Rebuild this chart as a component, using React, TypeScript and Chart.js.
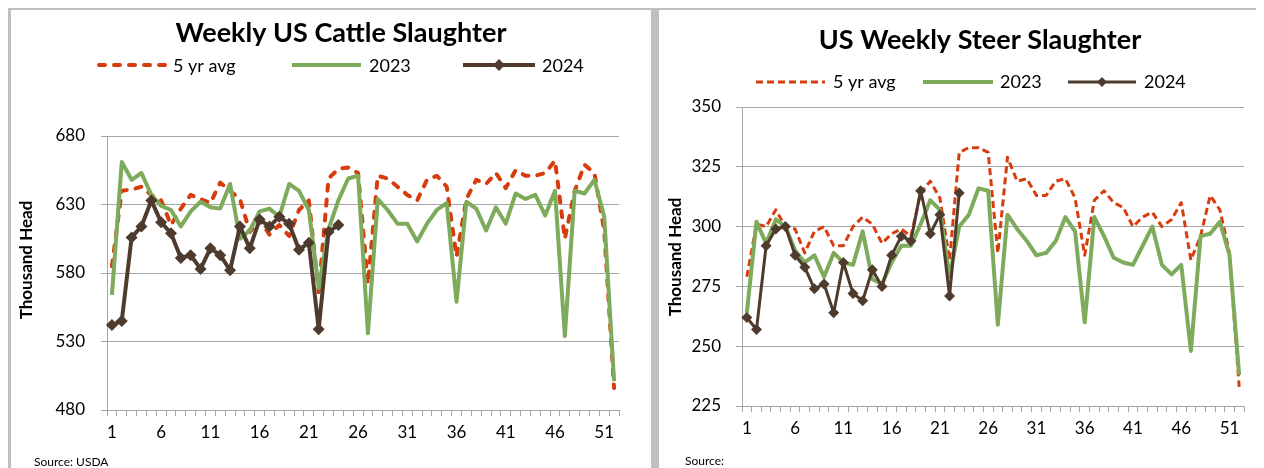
import React, { useEffect, useRef } from 'react';
import { Chart, registerables } from 'chart.js';

Chart.register(...registerables);

// ---------- data ----------
const weeks = [
  '1', '2', '3', '4', '5', '6', '7', '8', '9', '10', '11', '12', '13',
  '14', '15', '16', '17', '18', '19', '20', '21', '22', '23', '24', '25', '26',
  '27', '28', '29', '30', '31', '32', '33', '34', '35', '36', '37', '38', '39',
  '40', '41', '42', '43', '44', '45', '46', '47', '48', '49', '50', '51', '52',
];

const seriesNames = ['5 yr avg', '2023', '2024'];

const cattleAvg = [
  585, 640, 641, 643, 637, 633, 615, 627, 637, 634, 631, 646, 640,
  634, 610, 619, 608, 615, 607, 626, 633, 566, 649, 656, 657, 653,
  572, 651, 649, 643, 637, 633, 648, 651, 643, 592, 634, 648, 645,
  653, 642, 655, 651, 651, 653, 662, 605, 640, 659, 653, 611, 496,
];
const cattle2023 = [
  564, 661, 648, 653, 637, 629, 626, 614, 625, 632, 628, 627, 645,
  605, 611, 625, 627, 621, 645, 640, 626, 569, 612, 633, 649, 651,
  536, 634, 626, 616, 616, 603, 616, 626, 631, 559, 632, 627, 611,
  628, 616, 638, 634, 637, 622, 640, 534, 640, 638, 648, 621, 501,
];
const cattle2024 = [
  542, 545, 606, 614, 633, 617, 609, 591, 593, 583, 598, 593, 582,
  614, 598, 619, 614, 621, 616, 597, 602, 539, 610, 615,
];
const cattleTicks = [480, 530, 580, 630, 680];

const steerAvg = [
  279, 301, 300, 307, 300, 299, 289, 298, 300, 292, 292, 300, 304,
  301, 293, 297, 299, 296, 314, 319, 312, 286, 331, 333, 333, 331,
  289, 329, 319, 320, 313, 313, 319, 320, 312, 288, 311, 315, 310,
  308, 300, 304, 306, 300, 303, 310, 286, 296, 313, 307, 289, 233,
];
const steer2023 = [
  264, 302, 293, 303, 300, 290, 285, 288, 279, 289, 285, 284, 298,
  278, 276, 285, 292, 292, 301, 311, 307, 279, 300, 305, 316, 315,
  259, 305, 299, 294, 288, 289, 294, 304, 298, 260, 304, 296, 287,
  285, 284, 292, 300, 284, 280, 284, 248, 296, 297, 302, 288, 238,
];
const steer2024 = [
  262, 257, 292, 299, 300, 288, 283, 274, 276, 264, 285, 272, 269,
  282, 275, 288, 296, 294, 315, 297, 305, 271, 314,
];
const steerTicks = [225, 250, 275, 300, 325, 350];

// ---------- styles ----------
const RED = '#d63c0c';
const GREEN = '#7eab5b';
const BROWN = '#4e3b2e';
const GRID = '#a6a6a6';
const FONT = 'Lato';

type LegendItem = {
  x1: number; x2: number; tx: number; color: string; width: number;
  dash: number[]; cap: CanvasLineCap; marker: number;
};

type Spec = {
  width: number; height: number;
  title: string; titleX: number; titleY: number; titleSize: number;
  legendY: number; legendTextY: number; legendSize: number;
  legend: LegendItem[];
  yTitleX: number; yTitleY: number;
  source: string; sourceX: number; sourceY: number;
  padTop: number; padRight: number; yAxisWidth: number; xAxisHeight: number;
  yPad: number; xPad: number; tickSize: number;
  ticks: number[];
  avg: number[]; s2023: number[]; s2024: number[];
  avgWidth: number; avgDash: number[]; avgCap: CanvasLineCap;
  lineWidth: number; brownWidth: number; markerR: number;
};

function makeDecor(s: Spec) {
  return {
    id: 'decor',
    afterDraw(chart: any) {
      const ctx: CanvasRenderingContext2D = chart.ctx;
      ctx.save();
      ctx.fillStyle = '#000';
      ctx.textBaseline = 'alphabetic';
      // title
      ctx.font = `bold ${s.titleSize}px ${FONT}`;
      ctx.textAlign = 'center';
      ctx.fillText(s.title, s.titleX, s.titleY);
      // legend
      s.legend.forEach((it, i) => {
        ctx.beginPath();
        ctx.setLineDash(it.dash);
        ctx.lineCap = it.cap;
        ctx.lineWidth = it.width;
        ctx.strokeStyle = it.color;
        ctx.moveTo(it.x1, s.legendY);
        ctx.lineTo(it.x2, s.legendY);
        ctx.stroke();
        ctx.setLineDash([]);
        if (it.marker > 0) {
          const cx = (it.x1 + it.x2) / 2;
          const r = it.marker;
          ctx.beginPath();
          ctx.moveTo(cx, s.legendY - r);
          ctx.lineTo(cx + r, s.legendY);
          ctx.lineTo(cx, s.legendY + r);
          ctx.lineTo(cx - r, s.legendY);
          ctx.closePath();
          ctx.fillStyle = it.color;
          ctx.fill();
        }
        ctx.fillStyle = '#000';
        ctx.font = `${s.legendSize}px ${FONT}`;
        ctx.textAlign = 'left';
        ctx.fillText(seriesNames[i], it.tx, s.legendTextY);
      });
      // source
      ctx.font = `12px ${FONT}`;
      ctx.textAlign = 'left';
      ctx.fillText(s.source, s.sourceX, s.sourceY);
      // y title
      ctx.translate(s.yTitleX, s.yTitleY);
      ctx.rotate(-Math.PI / 2);
      ctx.font = `bold 17px ${FONT}`;
      ctx.textAlign = 'center';
      ctx.textBaseline = 'middle';
      ctx.fillText('Thousand Head', 0, 0);
      ctx.restore();
    },
  };
}

function Panel({ spec }: { spec: Spec }) {
  const ref = useRef<HTMLCanvasElement | null>(null);
  useEffect(() => {
    if (!ref.current) return;
    const s = spec;
    const chart = new Chart(ref.current, {
      type: 'line',
      data: {
        labels: weeks,
        datasets: [
          {
            label: seriesNames[2], data: s.s2024, borderColor: BROWN, backgroundColor: BROWN,
            borderWidth: s.brownWidth, pointStyle: 'rectRot', pointRadius: s.markerR,
            pointBackgroundColor: BROWN, pointBorderColor: BROWN, pointBorderWidth: 0,
            tension: 0, order: 0, borderJoinStyle: 'round',
          },
          {
            label: seriesNames[1], data: s.s2023, borderColor: GREEN, backgroundColor: GREEN,
            borderWidth: s.lineWidth, pointRadius: 0, tension: 0, order: 1, borderJoinStyle: 'round',
          },
          {
            label: seriesNames[0], data: s.avg, borderColor: RED, backgroundColor: RED,
            borderWidth: s.avgWidth, borderDash: s.avgDash, borderCapStyle: s.avgCap,
            pointRadius: 0, tension: 0, order: 2, borderJoinStyle: 'round',
          },
        ],
      },
      options: {
        responsive: false,
        animation: false,
        devicePixelRatio: 1,
        events: [],
        layout: { padding: { top: s.padTop, right: s.padRight, left: 0, bottom: 0 } },
        plugins: { legend: { display: false }, title: { display: false }, tooltip: { enabled: false } },
        scales: {
          x: {
            type: 'category',
            offset: true,
            grid: { display: true, drawOnChartArea: false, drawTicks: true, tickLength: 6, color: GRID, offset: true, lineWidth: 1 },
            border: { display: true, color: GRID, width: 1 },
            ticks: {
              autoSkip: false, maxRotation: 0, minRotation: 0, padding: s.xPad, color: '#000',
              font: { family: FONT, size: s.tickSize },
              callback: (_v: any, i: number) => (i % 5 === 0 ? weeks[i] : ''),
            },
            afterFit: (scale: any) => { scale.height = s.xAxisHeight; },
          },
          y: {
            min: s.ticks[0],
            max: s.ticks[s.ticks.length - 1],
            afterBuildTicks: (scale: any) => { scale.ticks = s.ticks.map((v) => ({ value: v })); },
            grid: { color: GRID, lineWidth: 1, tickLength: 6, drawTicks: true },
            border: { display: true, color: GRID, width: 1 },
            ticks: { padding: s.yPad, color: '#000', font: { family: FONT, size: s.tickSize } },
            afterFit: (scale: any) => { scale.width = s.yAxisWidth; },
          },
        },
      },
      plugins: [makeDecor(s)],
    } as any);
    return () => chart.destroy();
  }, [spec]);
  return (
    <canvas
      ref={ref}
      width={spec.width}
      height={spec.height}
      style={{ display: 'block', width: spec.width, height: spec.height }}
    />
  );
}

const leftSpec: Spec = {
  width: 640, height: 458,
  title: 'Weekly US Cattle Slaughter', titleX: 330, titleY: 32, titleSize: 27,
  legendY: 55, legendTextY: 62, legendSize: 18,
  legend: [
    { x1: 88, x2: 154, tx: 162, color: RED, width: 4, dash: [6, 9], cap: 'round', marker: 0 },
    { x1: 281, x2: 350, tx: 358, color: GREEN, width: 4, dash: [], cap: 'butt', marker: 0 },
    { x1: 452, x2: 524, tx: 531, color: BROWN, width: 4, dash: [], cap: 'butt', marker: 6 },
  ],
  yTitleX: 16, yTitleY: 250,
  source: 'Source: USDA', sourceX: 23, sourceY: 456,
  padTop: 126, padRight: 32, yAxisWidth: 96, xAxisHeight: 58,
  yPad: 16, xPad: 6, tickSize: 17,
  ticks: cattleTicks,
  avg: cattleAvg, s2023: cattle2023, s2024: cattle2024,
  avgWidth: 4, avgDash: [6, 9], avgCap: 'round',
  lineWidth: 4, brownWidth: 4, markerR: 6,
};

const rightSpec: Spec = {
  width: 602, height: 458,
  title: 'US Weekly Steer Slaughter', titleX: 321, titleY: 39, titleSize: 27,
  legendY: 72, legendTextY: 78, legendSize: 18,
  legend: [
    { x1: 97, x2: 166, tx: 174, color: RED, width: 3, dash: [7, 4], cap: 'butt', marker: 0 },
    { x1: 264, x2: 334, tx: 341, color: GREEN, width: 4, dash: [], cap: 'butt', marker: 0 },
    { x1: 409, x2: 477, tx: 485, color: BROWN, width: 3, dash: [], cap: 'butt', marker: 5 },
  ],
  yTitleX: 17, yTitleY: 247,
  source: 'Source:', sourceX: 26, sourceY: 455,
  padTop: 97, padRight: 17, yAxisWidth: 83, xAxisHeight: 62,
  yPad: 15, xPad: 6, tickSize: 17,
  ticks: steerTicks,
  avg: steerAvg, s2023: steer2023, s2024: steer2024,
  avgWidth: 3, avgDash: [7, 4], avgCap: 'butt',
  lineWidth: 4, brownWidth: 3, markerR: 5.5,
};

export default function App() {
  return (
    <div style={{ position: 'relative', width: 1254, height: 460, background: '#bfbfbf', overflow: 'hidden' }}>
      <div style={{ position: 'absolute', left: 3, top: 2, width: 640, height: 458, background: '#fff' }}>
        <Panel spec={leftSpec} />
      </div>
      <div style={{ position: 'absolute', left: 651, top: 2, width: 602, height: 458, background: '#fff' }}>
        <Panel spec={rightSpec} />
      </div>
    </div>
  );
}
